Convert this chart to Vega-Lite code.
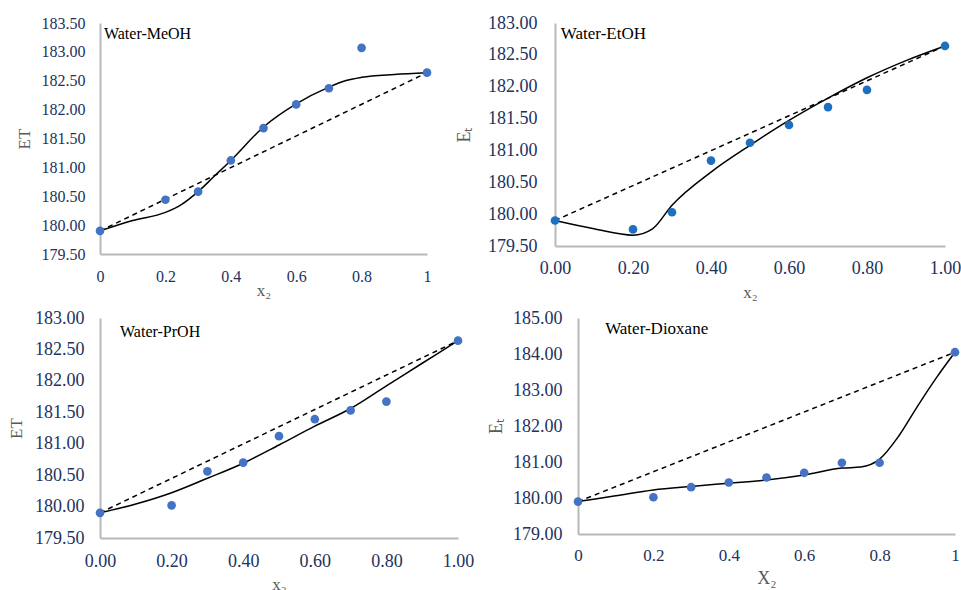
{
  "$schema": "https://vega.github.io/schema/vega-lite/v6.json",
  "padding": {"left": 7, "top": 14, "right": 0, "bottom": 0},
  "background": "white",
  "datasets": {
    "meoh": [
      {"kind": "exp", "x": 0, "y": 179.90}, {"kind": "exp", "x": 0.2, "y": 180.44}, {"kind": "exp", "x": 0.3, "y": 180.58},
      {"kind": "exp", "x": 0.4, "y": 181.12}, {"kind": "exp", "x": 0.5, "y": 181.68}, {"kind": "exp", "x": 0.6, "y": 182.09},
      {"kind": "exp", "x": 0.7, "y": 182.37}, {"kind": "exp", "x": 0.8, "y": 183.07}, {"kind": "exp", "x": 1, "y": 182.64},
      {"kind": "fit", "x": 0, "y": 179.90}, {"kind": "fit", "x": 0.1, "y": 180.08}, {"kind": "fit", "x": 0.2, "y": 180.22},
      {"kind": "fit", "x": 0.25, "y": 180.36}, {"kind": "fit", "x": 0.3, "y": 180.58}, {"kind": "fit", "x": 0.35, "y": 180.85},
      {"kind": "fit", "x": 0.4, "y": 181.12}, {"kind": "fit", "x": 0.5, "y": 181.70}, {"kind": "fit", "x": 0.6, "y": 182.10},
      {"kind": "fit", "x": 0.7, "y": 182.39}, {"kind": "fit", "x": 0.75, "y": 182.50}, {"kind": "fit", "x": 0.8, "y": 182.56},
      {"kind": "fit", "x": 0.9, "y": 182.61}, {"kind": "fit", "x": 1, "y": 182.64},
      {"kind": "ideal", "x": 0, "y": 179.90}, {"kind": "ideal", "x": 1, "y": 182.64}
    ],
    "etoh": [
      {"kind": "exp", "x": 0, "y": 179.90}, {"kind": "exp", "x": 0.2, "y": 179.76}, {"kind": "exp", "x": 0.3, "y": 180.03},
      {"kind": "exp", "x": 0.4, "y": 180.84}, {"kind": "exp", "x": 0.5, "y": 181.12}, {"kind": "exp", "x": 0.6, "y": 181.40},
      {"kind": "exp", "x": 0.7, "y": 181.68}, {"kind": "exp", "x": 0.8, "y": 181.95}, {"kind": "exp", "x": 1, "y": 182.64},
      {"kind": "fit", "x": 0, "y": 179.90}, {"kind": "fit", "x": 0.1, "y": 179.77}, {"kind": "fit", "x": 0.2, "y": 179.67},
      {"kind": "fit", "x": 0.25, "y": 179.77}, {"kind": "fit", "x": 0.3, "y": 180.14}, {"kind": "fit", "x": 0.4, "y": 180.66},
      {"kind": "fit", "x": 0.5, "y": 181.08}, {"kind": "fit", "x": 0.6, "y": 181.47}, {"kind": "fit", "x": 0.7, "y": 181.82},
      {"kind": "fit", "x": 0.8, "y": 182.14}, {"kind": "fit", "x": 0.9, "y": 182.41}, {"kind": "fit", "x": 1, "y": 182.64},
      {"kind": "ideal", "x": 0, "y": 179.90}, {"kind": "ideal", "x": 1, "y": 182.64}
    ],
    "proh": [
      {"kind": "exp", "x": 0, "y": 179.90}, {"kind": "exp", "x": 0.2, "y": 180.02}, {"kind": "exp", "x": 0.3, "y": 180.56},
      {"kind": "exp", "x": 0.4, "y": 180.70}, {"kind": "exp", "x": 0.5, "y": 181.12}, {"kind": "exp", "x": 0.6, "y": 181.39},
      {"kind": "exp", "x": 0.7, "y": 181.53}, {"kind": "exp", "x": 0.8, "y": 181.67}, {"kind": "exp", "x": 1, "y": 182.64},
      {"kind": "fit", "x": 0, "y": 179.90}, {"kind": "fit", "x": 0.1, "y": 180.04}, {"kind": "fit", "x": 0.2, "y": 180.22},
      {"kind": "fit", "x": 0.3, "y": 180.45}, {"kind": "fit", "x": 0.4, "y": 180.69}, {"kind": "fit", "x": 0.5, "y": 180.98},
      {"kind": "fit", "x": 0.6, "y": 181.28}, {"kind": "fit", "x": 0.7, "y": 181.56}, {"kind": "fit", "x": 0.8, "y": 181.92},
      {"kind": "fit", "x": 0.9, "y": 182.28}, {"kind": "fit", "x": 1, "y": 182.64},
      {"kind": "ideal", "x": 0, "y": 179.90}, {"kind": "ideal", "x": 1, "y": 182.64}
    ],
    "diox": [
      {"kind": "exp", "x": 0, "y": 179.90}, {"kind": "exp", "x": 0.2, "y": 180.02}, {"kind": "exp", "x": 0.3, "y": 180.30},
      {"kind": "exp", "x": 0.4, "y": 180.43}, {"kind": "exp", "x": 0.5, "y": 180.57}, {"kind": "exp", "x": 0.6, "y": 180.70},
      {"kind": "exp", "x": 0.7, "y": 180.98}, {"kind": "exp", "x": 0.8, "y": 180.98}, {"kind": "exp", "x": 1, "y": 184.05},
      {"kind": "fit", "x": 0, "y": 179.90}, {"kind": "fit", "x": 0.1, "y": 180.06}, {"kind": "fit", "x": 0.2, "y": 180.22},
      {"kind": "fit", "x": 0.3, "y": 180.32}, {"kind": "fit", "x": 0.4, "y": 180.41}, {"kind": "fit", "x": 0.5, "y": 180.50},
      {"kind": "fit", "x": 0.6, "y": 180.64}, {"kind": "fit", "x": 0.7, "y": 180.83}, {"kind": "fit", "x": 0.75, "y": 180.86},
      {"kind": "fit", "x": 0.8, "y": 181.08}, {"kind": "fit", "x": 0.85, "y": 181.71}, {"kind": "fit", "x": 0.9, "y": 182.54},
      {"kind": "fit", "x": 0.95, "y": 183.33}, {"kind": "fit", "x": 1, "y": 184.05},
      {"kind": "ideal", "x": 0, "y": 179.90}, {"kind": "ideal", "x": 1, "y": 184.05}
    ],
    "labels": [
      {"panel": "meoh", "label": "Water-MeOH"},
      {"panel": "etoh", "label": "Water-EtOH"},
      {"panel": "proh", "label": "Water-PrOH"},
      {"panel": "diox", "label": "Water-Dioxane"}
    ]
  },
  "config": {
    "view": {"stroke": null},
    "font": "Liberation Serif",
    "axis": {
      "grid": false, "ticks": false, "domainColor": "#B8B8B8", "domainWidth": 2,
      "labelFont": "Liberation Serif", "labelColor": "#22325E", "labelFlush": false, "labelOverlap": false,
      "titleFont": "Liberation Serif", "titleColor": "#595959", "titleFontWeight": "normal"
    }
  },
  "concat": [
    {
      "hconcat": [
        {
          "width": 327, "height": 231,
          "layer": [
            {
              "data": {"name": "meoh"},
              "encoding": {
                "x": {"field": "x", "type": "quantitative", "scale": {"domain": [0, 1], "nice": false},
                  "axis": {"values": [0, 0.2, 0.4, 0.6, 0.8, 1], "format": "", "title": "x₂", "labelOverlap": false, "labelFontSize": 16, "labelPadding": 14, "titleFontSize": 17, "titlePadding": -2}},
                "y": {"field": "y", "type": "quantitative", "scale": {"domain": [179.5, 183.5], "nice": false, "zero": false},
                  "axis": {"values": [179.5, 180, 180.5, 181, 181.5, 182, 182.5, 183, 183.5], "format": ".2f", "title": "ET", "labelOverlap": false, "labelFontSize": 16, "labelPadding": 15, "titleFontSize": 17, "titlePadding": 8}}
              },
              "layer": [
                {"transform": [{"filter": "datum.kind == 'ideal'"}], "mark": {"type": "line", "color": "#000000", "strokeWidth": 1.5, "strokeDash": [5, 4]}},
                {"transform": [{"filter": "datum.kind == 'fit'"}], "mark": {"type": "line", "color": "#000000", "strokeWidth": 1.5, "interpolate": "monotone"}},
                {"transform": [{"filter": "datum.kind == 'exp'"}], "mark": {"type": "circle", "color": "#4472C4", "opacity": 1, "size": 75}}
              ]
            },
            {
              "data": {"name": "labels"},
              "transform": [{"filter": "datum.panel == 'meoh'"}],
              "mark": {"type": "text", "align": "left", "baseline": "middle", "font": "Liberation Serif", "fontSize": 16, "color": "#000000"},
              "encoding": {
                "x": {"datum": 0.012, "type": "quantitative", "scale": {"domain": [0, 1], "nice": false},
                  "axis": {"values": [0, 0.2, 0.4, 0.6, 0.8, 1], "format": "", "title": "x₂", "labelOverlap": false, "labelFontSize": 16, "labelPadding": 14, "titleFontSize": 17, "titlePadding": -2}},
                "y": {"datum": 183.31, "type": "quantitative", "scale": {"domain": [179.5, 183.5], "nice": false, "zero": false},
                  "axis": {"values": [179.5, 180, 180.5, 181, 181.5, 182, 182.5, 183, 183.5], "format": ".2f", "title": "ET", "labelOverlap": false, "labelFontSize": 16, "labelPadding": 15, "titleFontSize": 17, "titlePadding": 8}},
                "text": {"field": "label", "type": "nominal"}
              }
            }
          ]
        },
        {
          "width": 390, "height": 223,
          "layer": [
            {
              "data": {"name": "etoh"},
              "encoding": {
                "x": {"field": "x", "type": "quantitative", "scale": {"domain": [0, 1], "nice": false},
                  "axis": {"values": [0, 0.2, 0.4, 0.6, 0.8, 1], "format": ".2f", "title": "x₂", "labelOverlap": false, "labelFontSize": 18, "labelPadding": 13, "titleFontSize": 17, "titlePadding": 7}},
                "y": {"field": "y", "type": "quantitative", "scale": {"domain": [179.5, 183], "nice": false, "zero": false},
                  "axis": {"values": [179.5, 180, 180.5, 181, 181.5, 182, 182.5, 183], "format": ".2f", "title": "Eₜ", "labelOverlap": false, "labelFontSize": 18, "labelPadding": 18, "titleFontSize": 18, "titlePadding": 14}}
              },
              "layer": [
                {"transform": [{"filter": "datum.kind == 'ideal'"}], "mark": {"type": "line", "color": "#000000", "strokeWidth": 1.5, "strokeDash": [5, 4]}},
                {"transform": [{"filter": "datum.kind == 'fit'"}], "mark": {"type": "line", "color": "#000000", "strokeWidth": 1.5, "interpolate": "monotone"}},
                {"transform": [{"filter": "datum.kind == 'exp'"}], "mark": {"type": "circle", "color": "#1F6FC0", "opacity": 1, "size": 75}}
              ]
            },
            {
              "data": {"name": "labels"},
              "transform": [{"filter": "datum.panel == 'etoh'"}],
              "mark": {"type": "text", "align": "left", "baseline": "middle", "font": "Liberation Serif", "fontSize": 17, "color": "#000000"},
              "encoding": {
                "x": {"datum": 0.015, "type": "quantitative", "scale": {"domain": [0, 1], "nice": false},
                  "axis": {"values": [0, 0.2, 0.4, 0.6, 0.8, 1], "format": ".2f", "title": "x₂", "labelOverlap": false, "labelFontSize": 18, "labelPadding": 13, "titleFontSize": 17, "titlePadding": 7}},
                "y": {"datum": 182.83, "type": "quantitative", "scale": {"domain": [179.5, 183], "nice": false, "zero": false},
                  "axis": {"values": [179.5, 180, 180.5, 181, 181.5, 182, 182.5, 183], "format": ".2f", "title": "Eₜ", "labelOverlap": false, "labelFontSize": 18, "labelPadding": 18, "titleFontSize": 18, "titlePadding": 14}},
                "text": {"field": "label", "type": "nominal"}
              }
            }
          ]
        }
      ],
      "spacing": 23
    },
    {
      "hconcat": [
        {
          "width": 358, "height": 220,
          "layer": [
            {
              "data": {"name": "proh"},
              "encoding": {
                "x": {"field": "x", "type": "quantitative", "scale": {"domain": [0, 1], "nice": false},
                  "axis": {"values": [0, 0.2, 0.4, 0.6, 0.8, 1], "format": ".2f", "title": "x₂", "labelOverlap": false, "labelFontSize": 18, "labelPadding": 14, "titleFontSize": 17, "titlePadding": 6}},
                "y": {"field": "y", "type": "quantitative", "scale": {"domain": [179.5, 183], "nice": false, "zero": false},
                  "axis": {"values": [179.5, 180, 180.5, 181, 181.5, 182, 182.5, 183], "format": ".2f", "title": "ET", "labelOverlap": false, "labelFontSize": 18, "labelPadding": 16, "titleFontSize": 17, "titlePadding": 9}}
              },
              "layer": [
                {"transform": [{"filter": "datum.kind == 'ideal'"}], "mark": {"type": "line", "color": "#000000", "strokeWidth": 1.5, "strokeDash": [5, 4]}},
                {"transform": [{"filter": "datum.kind == 'fit'"}], "mark": {"type": "line", "color": "#000000", "strokeWidth": 1.5, "interpolate": "monotone"}},
                {"transform": [{"filter": "datum.kind == 'exp'"}], "mark": {"type": "circle", "color": "#4472C4", "opacity": 1, "size": 75}}
              ]
            },
            {
              "data": {"name": "labels"},
              "transform": [{"filter": "datum.panel == 'proh'"}],
              "mark": {"type": "text", "align": "left", "baseline": "middle", "font": "Liberation Serif", "fontSize": 16, "color": "#000000"},
              "encoding": {
                "x": {"datum": 0.056, "type": "quantitative", "scale": {"domain": [0, 1], "nice": false},
                  "axis": {"values": [0, 0.2, 0.4, 0.6, 0.8, 1], "format": ".2f", "title": "x₂", "labelOverlap": false, "labelFontSize": 18, "labelPadding": 14, "titleFontSize": 17, "titlePadding": 6}},
                "y": {"datum": 182.78, "type": "quantitative", "scale": {"domain": [179.5, 183], "nice": false, "zero": false},
                  "axis": {"values": [179.5, 180, 180.5, 181, 181.5, 182, 182.5, 183], "format": ".2f", "title": "ET", "labelOverlap": false, "labelFontSize": 18, "labelPadding": 16, "titleFontSize": 17, "titlePadding": 9}},
                "text": {"field": "label", "type": "nominal"}
              }
            }
          ]
        },
        {
          "width": 377, "height": 216,
          "layer": [
            {
              "data": {"name": "diox"},
              "encoding": {
                "x": {"field": "x", "type": "quantitative", "scale": {"domain": [0, 1], "nice": false},
                  "axis": {"values": [0, 0.2, 0.4, 0.6, 0.8, 1], "format": "", "title": "X₂", "labelOverlap": false, "labelFontSize": 17, "labelPadding": 13, "titleFontSize": 18, "titlePadding": 6}},
                "y": {"field": "y", "type": "quantitative", "scale": {"domain": [179, 185], "nice": false, "zero": false},
                  "axis": {"values": [179, 180, 181, 182, 183, 184, 185], "format": ".2f", "title": "Eₜ", "labelOverlap": false, "labelFontSize": 18, "labelPadding": 16, "titleFontSize": 18, "titlePadding": 7}}
              },
              "layer": [
                {"transform": [{"filter": "datum.kind == 'ideal'"}], "mark": {"type": "line", "color": "#000000", "strokeWidth": 1.5, "strokeDash": [5, 4]}},
                {"transform": [{"filter": "datum.kind == 'fit'"}], "mark": {"type": "line", "color": "#000000", "strokeWidth": 1.5, "interpolate": "monotone"}},
                {"transform": [{"filter": "datum.kind == 'exp'"}], "mark": {"type": "circle", "color": "#4472C4", "opacity": 1, "size": 75}}
              ]
            },
            {
              "data": {"name": "labels"},
              "transform": [{"filter": "datum.panel == 'diox'"}],
              "mark": {"type": "text", "align": "left", "baseline": "middle", "font": "Liberation Serif", "fontSize": 17, "color": "#000000"},
              "encoding": {
                "x": {"datum": 0.072, "type": "quantitative", "scale": {"domain": [0, 1], "nice": false},
                  "axis": {"values": [0, 0.2, 0.4, 0.6, 0.8, 1], "format": "", "title": "X₂", "labelOverlap": false, "labelFontSize": 17, "labelPadding": 13, "titleFontSize": 18, "titlePadding": 6}},
                "y": {"datum": 184.69, "type": "quantitative", "scale": {"domain": [179, 185], "nice": false, "zero": false},
                  "axis": {"values": [179, 180, 181, 182, 183, 184, 185], "format": ".2f", "title": "Eₜ", "labelOverlap": false, "labelFontSize": 18, "labelPadding": 16, "titleFontSize": 18, "titlePadding": 7}},
                "text": {"field": "label", "type": "nominal"}
              }
            }
          ]
        }
      ],
      "spacing": 13
    }
  ],
  "columns": 1,
  "spacing": 9
}
